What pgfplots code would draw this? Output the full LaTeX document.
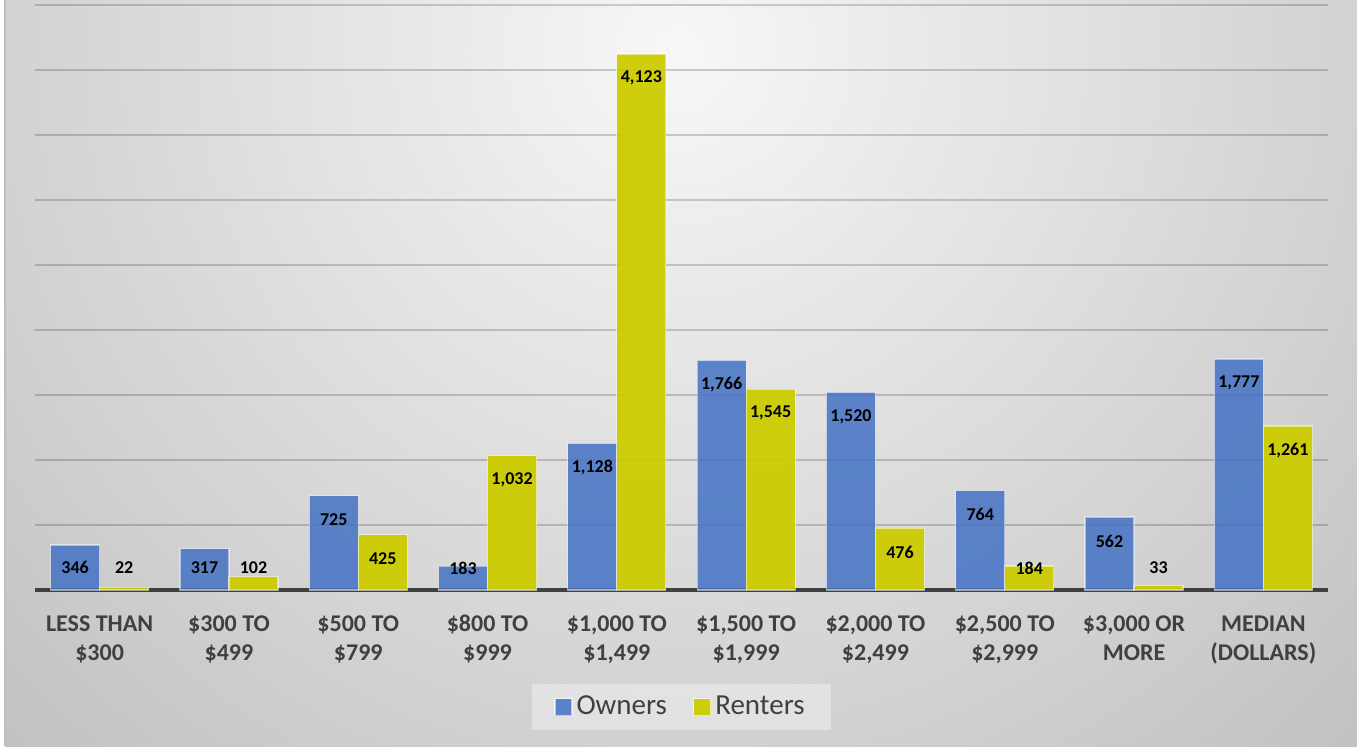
\documentclass[border=0pt]{standalone}
\usepackage{fontspec}
\setmainfont{Carlito}
\usepackage{pgfplots}
\pgfplotsset{compat=1.18}

\definecolor{ownblue}{RGB}{68,114,196}
\definecolor{rentyel}{RGB}{204,204,0}
\definecolor{txtgray}{RGB}{64,64,64}
\definecolor{bgin}{RGB}{247,247,247}
\definecolor{bgout}{RGB}{192,192,192}

\begin{document}
\begin{tikzpicture}
% chart area background
\fill[white] (-17.5pt,-78pt) rectangle (661pt,295pt);
\begin{scope}
  \clip (-15pt,-78pt) rectangle (661pt,295pt);
  \shade[inner color=bgin, outer color=bgout] (321.5pt,270pt) circle (500pt);
\end{scope}
\draw[black!25, line width=0.6pt] (-15pt,-78pt) -- (-15pt,295pt);

\begin{axis}[
  at={(0pt,0pt)}, anchor=south west,
  scale only axis,
  width=646.5pt, height=292.5pt,
  xmin=-0.5, xmax=9.5,
  ymin=0, ymax=4500,
  axis x line=bottom,
  axis y line=left,
  x axis line style={-, line width=2pt, color=txtgray},
  y axis line style={draw=none},
  xtick={0,...,9},
  xticklabels={{\strut LESS THAN\\\strut\$300},{\strut\$300 TO\\\strut\$499},{\strut\$500 TO\\\strut\$799},{\strut\$800 TO\\\strut\$999},
    {\strut\$1,000 TO\\\strut\$1,499},{\strut\$1,500 TO\\\strut\$1,999},{\strut\$2,000 TO\\\strut\$2,499},{\strut\$2,500 TO\\\strut\$2,999},
    {\strut\$3,000 OR\\\strut MORE},{\strut MEDIAN\\\strut(DOLLARS)}},
  xticklabel style={align=center, font=\bfseries\fontsize{12}{14.5}\selectfont, text=txtgray, yshift=-7pt},
  major tick length=0pt,
  ytick={500,1000,...,4500},
  yticklabels={},
  ymajorgrids=true,
  grid style={line width=1.1pt, black, opacity=0.18},
  legend style={at={(0.5,-0.2)}, anchor=center, legend columns=2,
    fill=white, fill opacity=0.35, text opacity=1, draw=none,
    font=\fontsize{14.5}{16}\selectfont, text=txtgray,
    inner xsep=11pt, inner ysep=4pt,
    /tikz/every even column/.append style={column sep=11pt}},
  legend image code/.code={\draw[#1, draw opacity=0.6] (0pt,-4.25pt) rectangle (8.5pt,4.25pt);},
  clip=false,
]

% bars
\addplot[ybar, bar width=24.5pt, bar shift=-12.25pt, fill=ownblue, fill opacity=0.85,
  draw=white, draw opacity=0.5, line width=0.6pt] coordinates {
  (0,346) (1,317) (2,725) (3,183) (4,1128) (5,1766) (6,1520) (7,764) (8,562) (9,1777)
};
\addlegendentry{Owners}

\addplot[ybar, bar width=24.5pt, bar shift=12.25pt, fill=rentyel, fill opacity=0.95,
  draw=white, draw opacity=0.5, line width=0.6pt] coordinates {
  (0,22) (1,102) (2,425) (3,1032) (4,4123) (5,1545) (6,476) (7,184) (8,33) (9,1261)
};
\addlegendentry{Renters}

% data labels (inside end, kept above the baseline for short bars)
\pgfplotsset{
  lbl/.style={forget plot, draw=none, mark=none, point meta=explicit,
    nodes near coords={\pgfmathprintnumber[assume math mode=true]{\pgfplotspointmeta}},
    every node near coord/.style={anchor=center, xshift=#1, text=black,
      font=\bfseries\fontsize{9}{10}\selectfont, inner sep=0pt}}
}
\addplot[lbl=-12.25pt] coordinates {
  (0,170) [346] (1,170) [317] (2,540) [725] (3,170) [183] (4,943) [1128]
  (5,1581) [1766] (6,1335) [1520] (7,579) [764] (8,377) [562] (9,1592) [1777]
};
\addplot[lbl=12.25pt] coordinates {
  (0,170) [22] (1,170) [102] (2,240) [425] (3,847) [1032] (4,3938) [4123]
  (5,1360) [1545] (6,291) [476] (7,170) [184] (8,170) [33] (9,1076) [1261]
};
\end{axis}
\pgfresetboundingbox
\useasboundingbox (-17.5pt,-78pt) rectangle (661pt,295pt);
\end{tikzpicture}
\end{document}
